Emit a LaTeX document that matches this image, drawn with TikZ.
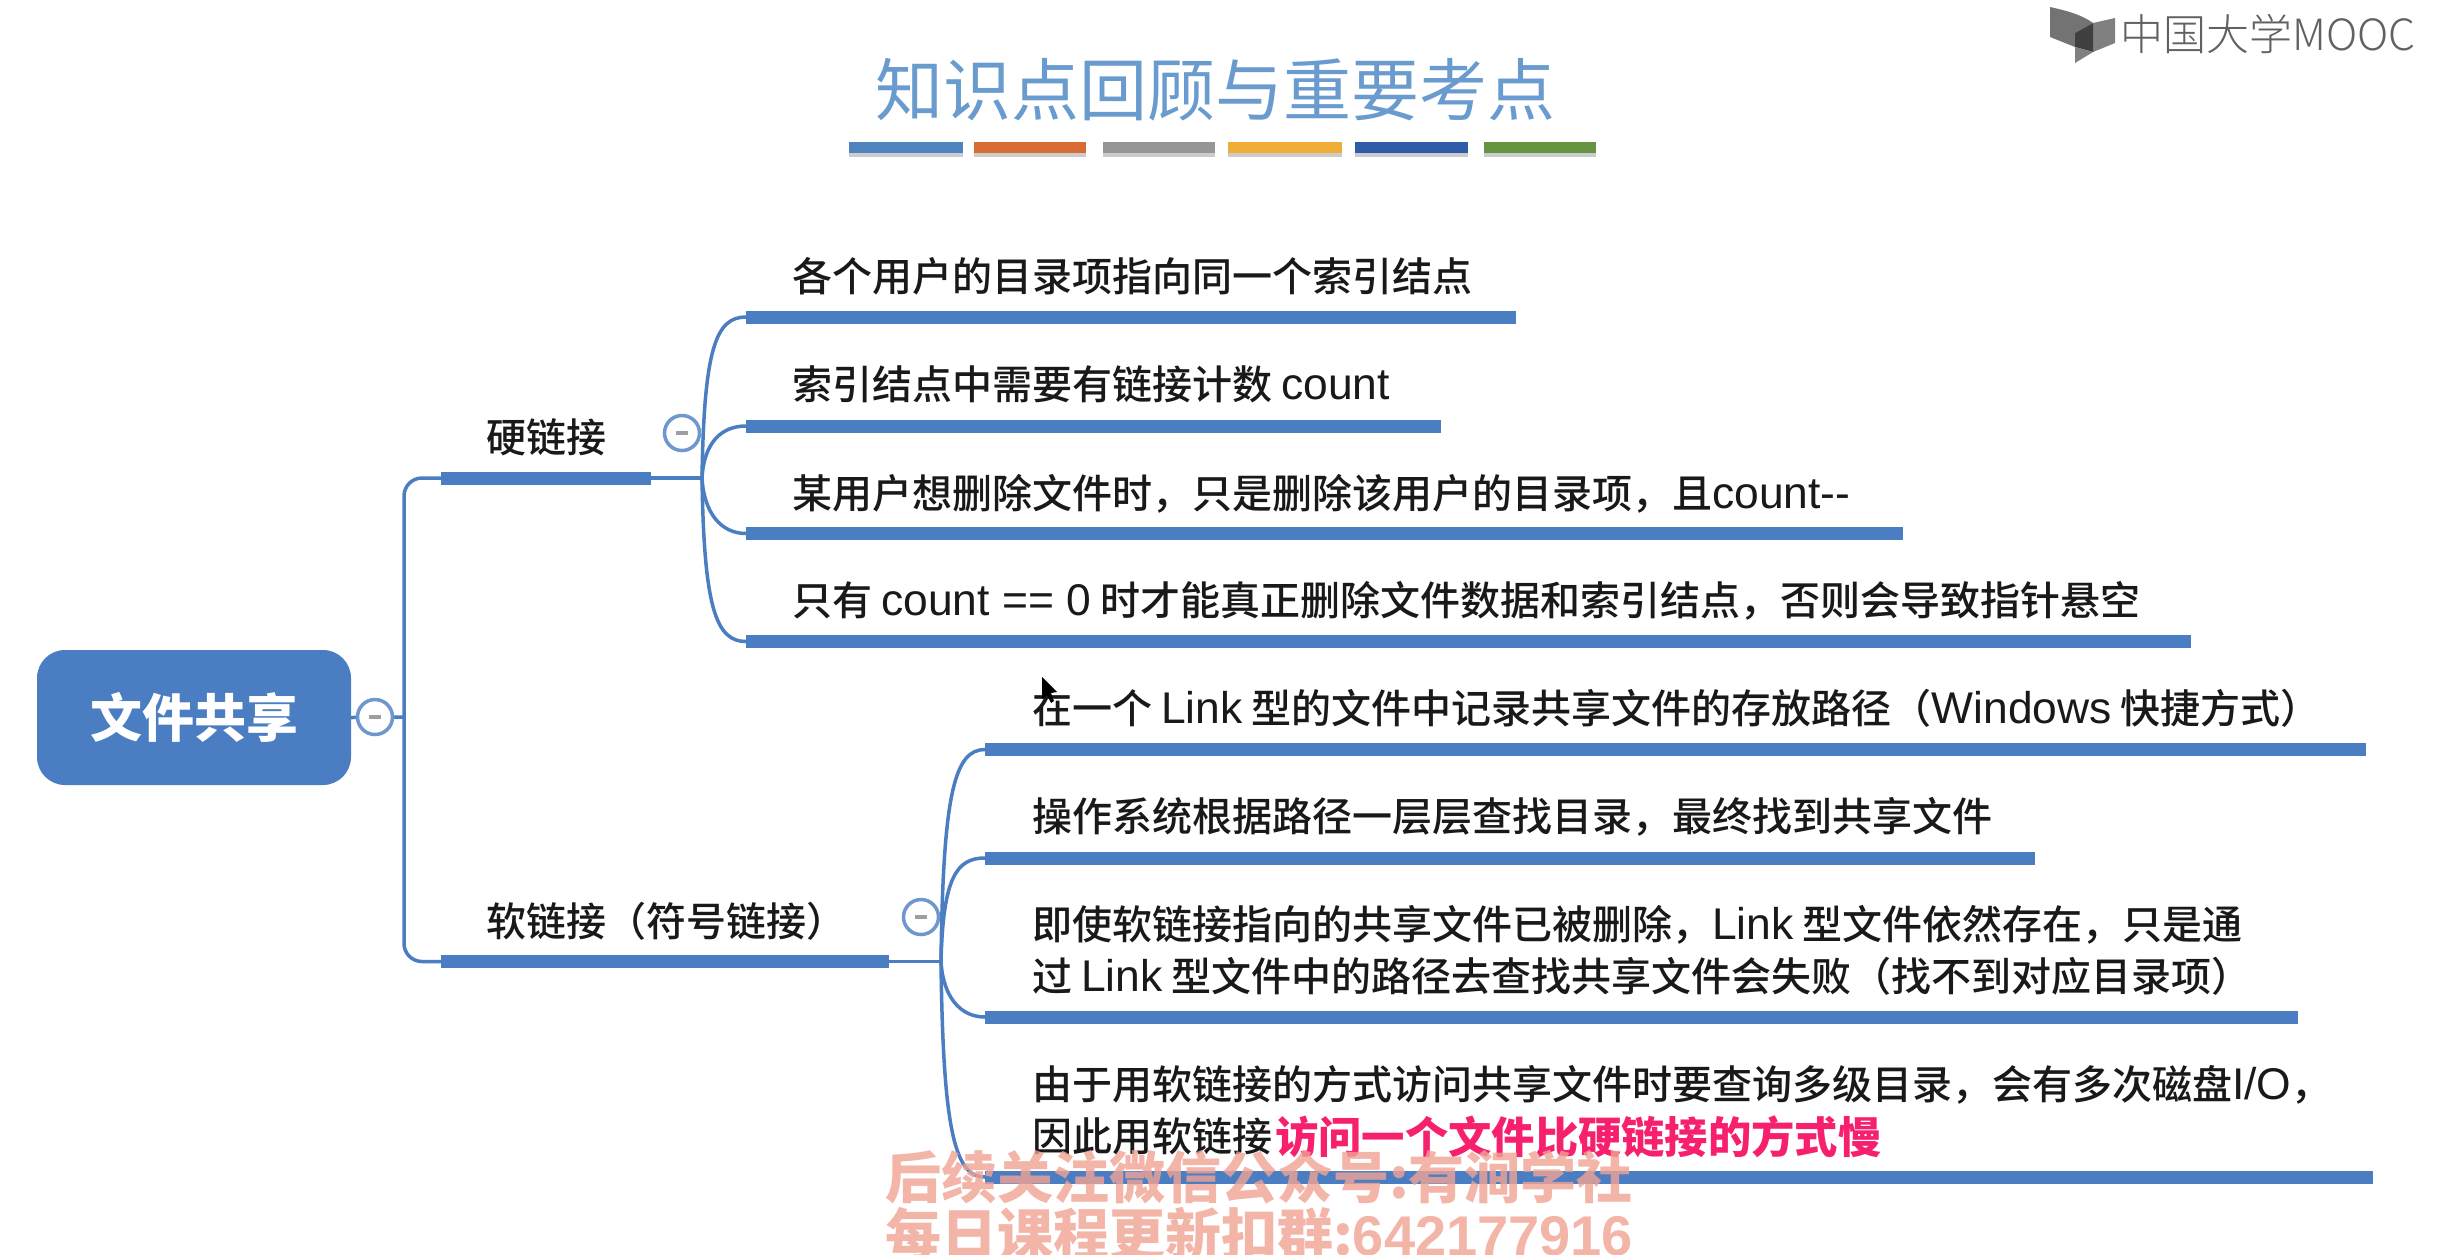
\documentclass[tikz,border=0pt]{standalone}
\usepackage{fontspec}
\setmainfont{Noto Sans CJK SC Medium}
\newfontfamily\regcjk{Noto Sans CJK SC}
\newfontfamily\lightcjk{Noto Sans CJK SC Light}
\newfontfamily\latf[Scale=1.11]{Liberation Sans}
\newfontfamily\digf[BoldFont={Liberation Sans Bold}]{Liberation Sans}
\newcommand{\lat}[1]{{\latf #1}}
\definecolor{mapblue}{HTML}{4A7DC2}
\definecolor{titleblue}{HTML}{6A9BCF}
\definecolor{wm}{HTML}{F2A394}
\definecolor{subpink}{HTML}{F7206E}
\usetikzlibrary{shadows}
\tikzset{
  conn/.style={draw=mapblue,line width=3.5pt,line cap=round},
  barbox/.style={fill=mapblue,anchor=west,inner sep=0pt,minimum height=13pt,outer sep=0pt},
  body/.style={anchor=west,inner sep=0pt,text=black!90,font=\fontsize{40}{52}\selectfont,align=left},
  toggle/.style={circle,draw=mapblue!80,fill=white,line width=3.5pt,minimum size=35pt,inner sep=0pt},
  minusmark/.style={draw=gray!75,line width=3.5pt},
  ribbon/.style={anchor=north west,inner sep=0pt,minimum height=11pt,outer sep=0pt,drop shadow},
  watermark/.style={anchor=west,inner sep=0pt,text=wm,font=\fontsize{56}{60}\regcjk\selectfont\bfseries},
  every shadow/.style={shadow xshift=0pt,shadow yshift=-4pt,fill=black,opacity=.2},
}
\begin{document}
\begin{tikzpicture}[x=1pt,y=-1pt]
\useasboundingbox (0,0) rectangle (2448,1254);
\clip (0,0) rectangle (2448,1254);
\fill[white] (0,0) rectangle (2448,1254);
% title
\node[inner sep=0pt,text=titleblue,font=\fontsize{68}{80}\regcjk\selectfont] (title) at (1215,90) {知识点回顾与重要考点};
\foreach \nm/\xa/\w/\c in {r1/849/114/4F84BE,r2/974/112/D96C35,r3/1103/112/969696,r4/1228/114/F0AE38,r5/1355/113/2F5CA8,r6/1484/112/669440}{
  \definecolor{tmpc}{HTML}{\c}
  \node[ribbon,fill=tmpc,minimum width=\w pt] (\nm) at (\xa,142) {};
}
% logo
\fill[black!55] (2050,7) .. controls (2068,11) and (2082,15) .. (2093,23) -- (2075,33) -- (2075,47) -- (2050,37) -- cycle;
\fill[black!50] (2093,23) -- (2115,18) -- (2115,43) -- (2093,52) -- cycle;
\fill[black!75] (2075,33) -- (2093,23) -- (2093,52) -- (2075,47) -- cycle;
\fill[black!50] (2075,47) -- (2093,52) -- (2075,63) -- cycle;
\node[anchor=west,inner sep=0pt,text=black!62,font=\fontsize{43}{46}\lightcjk\selectfont] (logo) at (2120,34) {中国大学MOOC};
% root
\node[fill=mapblue,rounded corners=28pt,minimum width=314pt,minimum height=135pt,inner sep=0pt,text=white,font=\fontsize{52}{56}\selectfont\bfseries] (root) at (194,717.5) {\raisebox{-3pt}{文件共享}};
% level 1
\node[barbox,minimum width=210pt] (hard) at (441,478) {};
\node[barbox,minimum width=448pt] (soft) at (441,961.5) {};
\coordinate (trunk) at (404,717);
\draw[conn] (root.east) -- (trunk);
\draw[conn,rounded corners=18pt] (hard.west) -| (trunk) |- (soft.west);
\node[body] (hardt) at (486,437) {硬链接};
\node[body] (softt) at (486,921) {软链接（符号链接）};
% hard children
\coordinate (hhub) at (702,478);
\draw[conn] (hard.east) -- (hhub);
\node[barbox,minimum width=770pt] (h1) at (746,317) {};
\node[barbox,minimum width=695pt] (h2) at (746,426) {};
\node[barbox,minimum width=1157pt] (h3) at (746,533.5) {};
\node[barbox,minimum width=1445pt] (h4) at (746,641.5) {};
\draw[conn] (hhub) .. controls +(2,-130) and +(-30,0) .. (h1.west);
\draw[conn] (hhub) .. controls +(2,-35) and +(-25,0) .. (h2.west);
\draw[conn] (hhub) .. controls +(2,35) and +(-25,0) .. (h3.west);
\draw[conn] (hhub) .. controls +(2,130) and +(-30,0) .. (h4.west);
\node[body] (ht1) at (792,276) {各个用户的目录项指向同一个索引结点};
\node[body] (ht2) at (792,384) {索引结点中需要有链接计数 \lat{count}};
\node[body] (ht3) at (792,494) {某用户想删除文件时，只是删除该用户的目录项，且\lat{count-{}-}};
\node[body] (ht4) at (792,601) {只有 \lat{count == 0} 时才能真正删除文件数据和索引结点，否则会导致指针悬空};
% soft children
\coordinate (shub) at (941,961.5);
\draw[conn] (soft.east) -- (shub);
\node[barbox,minimum width=1381pt] (s1) at (985,749.5) {};
\node[barbox,minimum width=1050pt] (s2) at (985,858) {};
\node[barbox,minimum width=1313pt] (s3) at (985,1017) {};
\node[barbox,minimum width=1388pt] (s4) at (985,1177) {};
\draw[conn] (shub) .. controls +(2,-170) and +(-30,0) .. (s1.west);
\draw[conn] (shub) .. controls +(2,-85) and +(-28,0) .. (s2.west);
\draw[conn] (shub) .. controls +(2,35) and +(-25,0) .. (s3.west);
\draw[conn] (shub) .. controls +(2,170) and +(-30,0) .. (s4.west);
\node[body] (st1) at (1032,708) {在一个 \lat{Link} 型的文件中记录共享文件的存放路径（\lat{Windows} 快捷方式）};
\node[body] (st2) at (1032,817) {操作系统根据路径一层层查找目录，最终找到共享文件};
\node[body] (st3) at (1032,950) {即使软链接指向的共享文件已被删除，\lat{Link} 型文件依然存在，只是通\\过 \lat{Link} 型文件中的路径去查找共享文件会失败（找不到对应目录项）};
\node[body] (st4) at (1032,1110) {由于用软链接的方式访问共享文件时要查询多级目录，会有多次磁盘\lat{I/O}，\\因此用软链接};
% toggles
\foreach \nm/\px/\py in {troot/375/717,thard/682/433,tsoft/921/917}{
  \node[toggle] (\nm) at (\px,\py) {};
  \draw[minusmark] (\nm.center) ++(-6,0) -- ++(12,0);
}
% cursor
\fill[black] (1042,677) -- (1042,699) -- (1047,695) -- (1051,703) -- (1054,701) -- (1051,693) -- (1057,692) -- cycle;
% subtitle
\node[anchor=west,inner sep=0pt,text=subpink,font=\fontsize{43.3}{48}\selectfont\bfseries] (sub) at (1275,1137) {访问一个文件比硬链接的方式慢};
% watermark
\node[watermark,opacity=.8] (wm1) at (885,1177) {后续关注微信公众号:有涧学社};
\node[watermark,opacity=.8] (wm2) at (885,1234) {每日课程更新扣群:{\digf\bfseries 642177916}};
\end{tikzpicture}
\end{document}
